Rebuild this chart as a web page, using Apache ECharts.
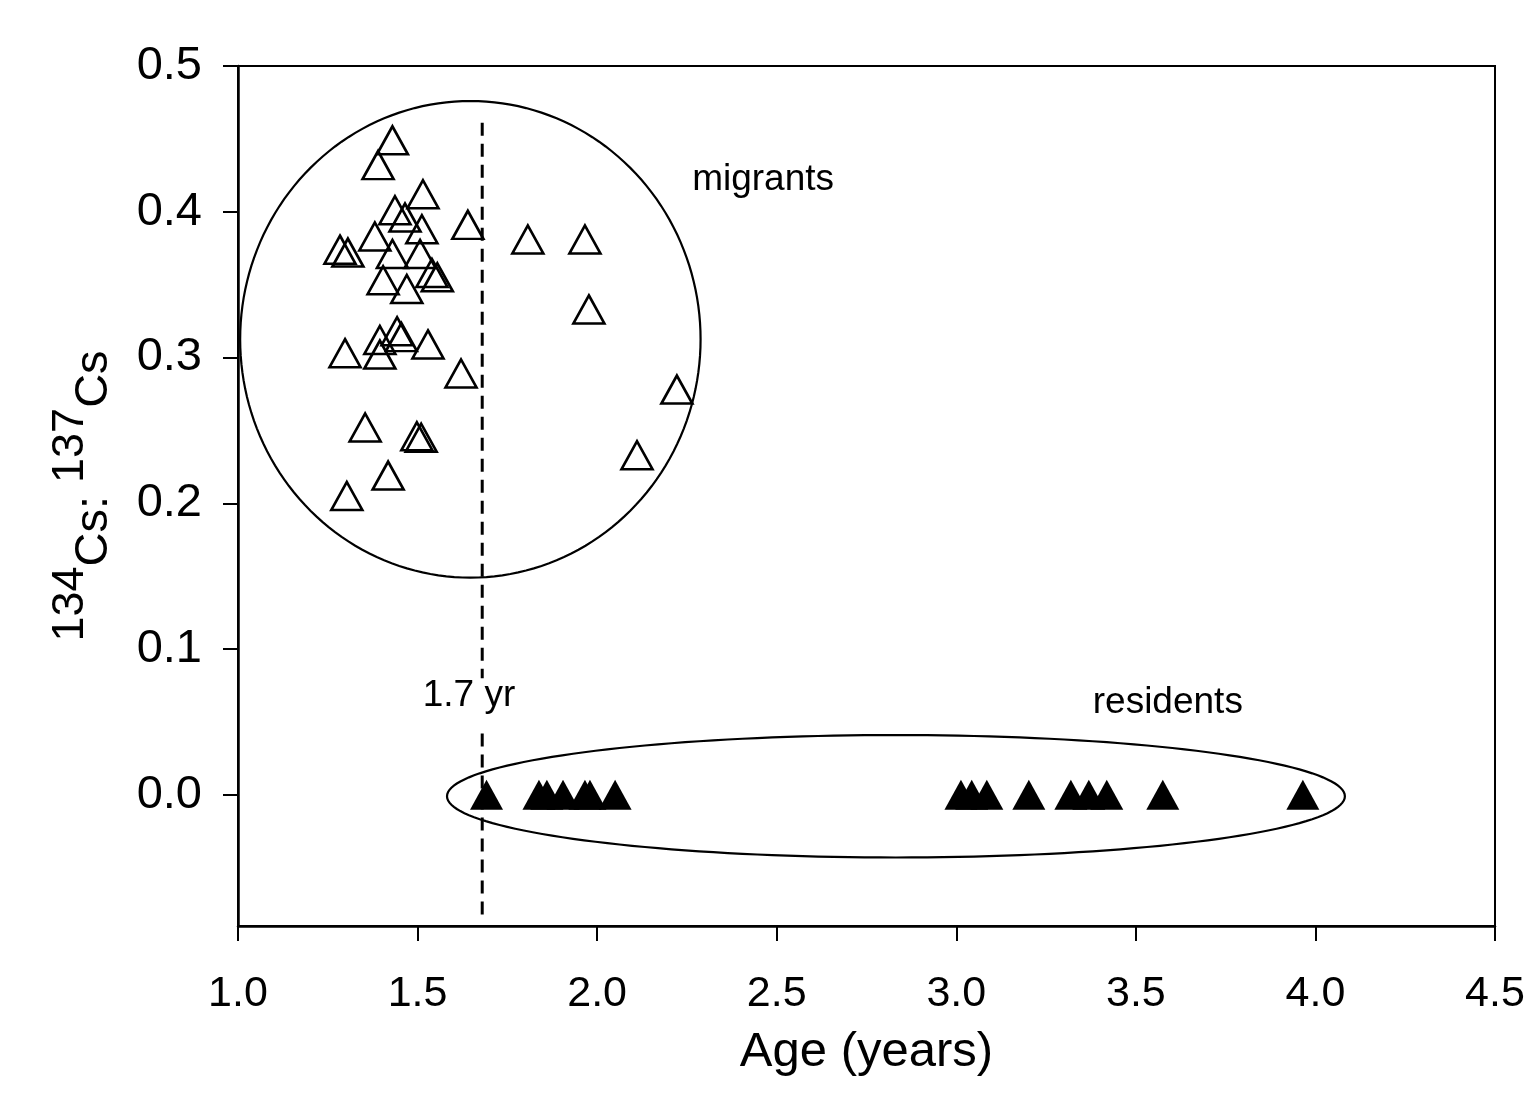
<!DOCTYPE html>
<html>
<head>
<meta charset="utf-8">
<script src="https://cdn.jsdelivr.net/npm/echarts@6/dist/echarts.min.js"></script>
<style>
  html, body { margin: 0; padding: 0; background: #fff; }
  #chart { width: 1528px; height: 1100px; }
</style>
</head>
<body>
<div id="chart"></div>
<script>
const chart = echarts.init(document.getElementById('chart'))

// migrants: open triangles [age, ratio]
const migrants = [
  [1.43, 0.449], [1.39, 0.432], [1.515, 0.412], [1.437, 0.401], [1.465, 0.396],
  [1.512, 0.388], [1.284, 0.374], [1.306, 0.372], [1.381, 0.383], [1.43, 0.371],
  [1.507, 0.371], [1.404, 0.353], [1.47, 0.347], [1.54, 0.358], [1.555, 0.355],
  [1.64, 0.391], [1.807, 0.381], [1.966, 0.381], [1.977, 0.333], [2.222, 0.278],
  [2.111, 0.233], [1.621, 0.289], [1.298, 0.303], [1.395, 0.312], [1.395, 0.302],
  [1.443, 0.318], [1.455, 0.314], [1.529, 0.309], [1.354, 0.252], [1.498, 0.246],
  [1.51, 0.245], [1.418, 0.219], [1.303, 0.205]
]

// residents: filled triangles, ratio 0
const residentAges = [1.692, 1.838, 1.86, 1.905, 1.966, 1.98, 2.05,
  3.013, 3.043, 3.085, 3.202, 3.319, 3.369, 3.419, 3.575, 3.965]
const residentRatio = residentAges.map(() => 0)

// group ellipses [cx, cy, rx, ry] in data units
const ellipses = [
  [1.647, 0.3125, 0.641, 0.1635],
  [2.832, -0.001, 1.25, 0.042]
]

// cut-off line at 1.7 yr
const cutoffAge = 1.68
const cutoffSegments = [[0.461, 0.08], [0.042, -0.086]]

const notes = [
  { name: 'migrants', value: [2.462, 0.422] },
  { name: 'residents', value: [3.589, 0.063] },
  { name: '1.7 yr', value: [1.643, 0.068] }
]

const xTicks = [1.0, 1.5, 2.0, 2.5, 3.0, 3.5, 4.0, 4.5]
const yTicks = [0.0, 0.1, 0.2, 0.3, 0.4, 0.5]

const font = 'Arial, "Liberation Sans", sans-serif'

const option = {
  animation: false,
  grid: {
    left: 238, right: 33, top: 66, bottom: 174,
    show: true, borderColor: '#000', borderWidth: 2
  },
  xAxis: {
    type: 'value', min: 1, max: 4.5, interval: 0.5,
    name: 'Age (years)', nameLocation: 'middle', nameGap: 102,
    nameTextStyle: { fontFamily: font, fontSize: 49, color: '#000' },
    axisLine: { show: true, onZero: false, lineStyle: { color: '#000', width: 2.5 } },
    axisTick: { show: true, length: 15, lineStyle: { color: '#000', width: 2 }, customValues: xTicks },
    axisLabel: { fontFamily: font, fontSize: 43, color: '#000', margin: 47,
      customValues: xTicks, formatter: (v) => v.toFixed(1) },
    splitLine: { show: false }
  },
  yAxis: {
    type: 'value', min: -0.09, max: 0.5,
    name: '{s|134}{c|Cs: }{s|137}{c|Cs}', nameLocation: 'middle', nameGap: 120,
    nameRotate: 90,
    nameTextStyle: {
      fontFamily: font, color: '#000',
      rich: {
        s: { fontFamily: font, fontSize: 45, lineHeight: 36, verticalAlign: 'top' },
        c: { fontFamily: font, fontSize: 47, lineHeight: 70, verticalAlign: 'bottom' }
      }
    },
    axisLine: { show: true, onZero: false, lineStyle: { color: '#000', width: 2.5 } },
    axisTick: { show: true, length: 15, lineStyle: { color: '#000', width: 2 }, customValues: yTicks },
    axisLabel: { fontFamily: font, fontSize: 47, color: '#000', margin: 36,
      customValues: yTicks, formatter: (v) => v.toFixed(1) },
    splitLine: { show: false }
  },
  series: [
    {
      name: 'groups',
      type: 'custom',
      silent: true,
      data: ellipses,
      renderItem: (params, api) => {
        const c = api.coord([api.value(0), api.value(1)])
        const r = api.size([api.value(2), api.value(3)])
        const pts = []
        for (let i = 0; i < 180; i++) {
          const t = (i / 180) * Math.PI * 2
          pts.push([c[0] + r[0] * Math.cos(t), c[1] + r[1] * Math.sin(t)])
        }
        return {
          type: 'polygon',
          shape: { points: pts },
          style: { fill: 'none', stroke: '#000', lineWidth: 2.2 }
        }
      },
      z: 1
    },
    {
      name: 'cutoff',
      type: 'custom',
      silent: true,
      data: cutoffSegments,
      renderItem: (params, api) => {
        const a = api.coord([cutoffAge, api.value(0)])
        const b = api.coord([cutoffAge, api.value(1)])
        return {
          type: 'line',
          shape: { x1: a[0], y1: a[1], x2: b[0], y2: b[1] },
          style: { stroke: '#000', lineWidth: 3, lineDash: [13, 8] }
        }
      },
      z: 1
    },
    {
      name: 'migrants',
      type: 'scatter',
      symbol: 'triangle',
      symbolSize: [31, 28],
      itemStyle: { color: 'rgba(0,0,0,0)', borderColor: '#000', borderWidth: 2.6, opacity: 1 },
      data: migrants,
      z: 3
    },
    {
      name: 'residents',
      type: 'scatter',
      symbol: 'triangle',
      symbolSize: [33, 30],
      itemStyle: { color: '#000', opacity: 1 },
      data: residentAges.map((a, i) => [a, residentRatio[i]]),
      z: 3
    },
    {
      name: 'notes',
      type: 'scatter',
      symbolSize: 0,
      silent: true,
      itemStyle: { opacity: 1 },
      data: notes,
      label: {
        show: true, position: 'inside', formatter: (p) => p.name,
        fontFamily: font, fontSize: 37, color: '#000'
      },
      z: 4
    }
  ]
}

chart.setOption(option)
</script>
</body>
</html>
